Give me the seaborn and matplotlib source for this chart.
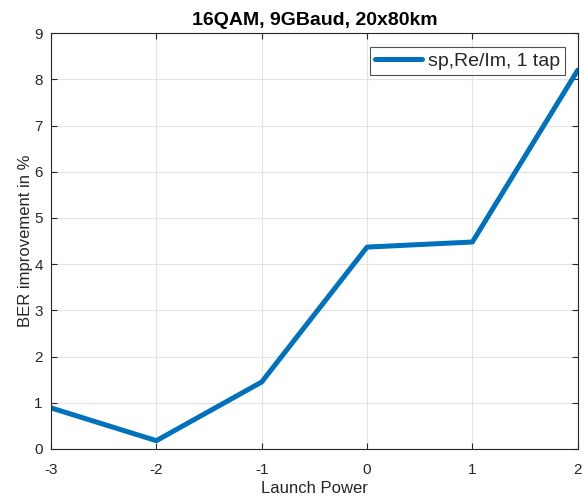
import matplotlib
matplotlib.use("Agg")
import matplotlib.pyplot as plt
import seaborn as sns
import pandas as pd

launch_power = [-3, -2, -1, 0, 1, 2]
ber_improvement = [0.89, 0.18, 1.45, 4.37, 4.48, 8.2]
series_name = "sp,Re/Im, 1 tap"
title = "16QAM, 9GBaud, 20x80km"

sns.set_theme(style="whitegrid")
plt.rcParams['font.family'] = ['Liberation Sans', 'DejaVu Sans']

df = pd.DataFrame({"x": launch_power, "y": ber_improvement, "s": series_name})

fig = plt.figure(figsize=(5.84, 5.01), dpi=100)
ax = fig.add_axes([0.0873, 0.1038, 0.902, 0.830])
sns.lineplot(data=df, x="x", y="y", hue="s", palette=["#0072BD"], linewidth=3.6, ax=ax)

ax.set_xlim(-3, 2)
ax.set_ylim(0, 9)
ax.set_xticks(launch_power)
ax.set_yticks(range(0, 10))
ax.set_xticklabels([str(v) for v in launch_power])
ax.grid(True, color="#e3e3e3", linewidth=0.8)
for sp in ax.spines.values():
    sp.set_visible(True)
    sp.set_color("#262626")
    sp.set_linewidth(0.8)
ax.tick_params(direction="in", length=4, width=0.8, colors="#262626", labelsize=11,
               top=True, right=True, bottom=True, left=True, labelcolor="#262626")
ax.tick_params(axis="x", pad=10)
ax.tick_params(axis="y", pad=6)
ax.set_xlabel("Launch Power", fontsize=12, color="#262626", labelpad=3)
ax.set_ylabel("BER improvement in %", fontsize=12, color="#262626", labelpad=1)
ax.set_title(title, fontsize=14, fontweight="bold", color="#000000", pad=6)
leg = ax.legend(loc="upper right", fontsize=14, frameon=True, fancybox=False,
                edgecolor="#262626", handlelength=2.4, handletextpad=0.3,
                borderpad=0.25, borderaxespad=0,
                bbox_to_anchor=(0.975, 0.966))
leg.get_frame().set_linewidth(0.8)

fig.savefig("out.png", dpi=100)
